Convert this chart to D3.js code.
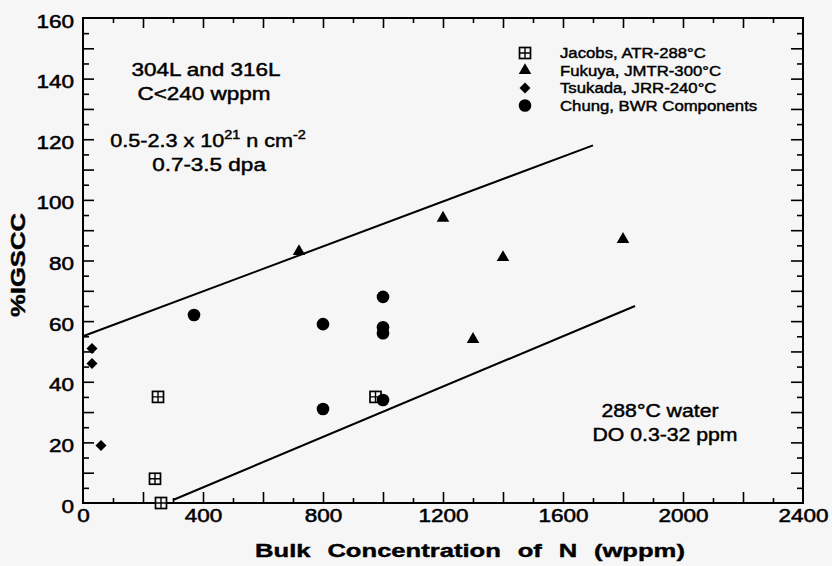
<!DOCTYPE html>
<html><head><meta charset="utf-8">
<script src="https://cdn.jsdelivr.net/npm/d3@7"></script>
<style>
html,body{margin:0;padding:0;background:#f6f6f6;}
svg{display:block;}
text{font-family:"Liberation Sans",Arial,Helvetica,sans-serif;fill:#000;}
</style></head><body>
<svg id="chart" width="832" height="566"></svg>
<script>
// ---------- data ----------
const jacobsN = [250, 240, 260, 975];
const jacobsIGSCC = [35, 8, 0, 35];
const fukuyaN = [720, 1200, 1400, 1800, 1300];
const fukuyaIGSCC = [83, 94, 81, 87, 54];
const tsukadaN = [30, 30, 60];
const tsukadaIGSCC = [51, 46, 19];
const chungN = [370, 800, 800, 1000, 1000, 1000, 1000];
const chungIGSCC = [62, 59, 31, 68, 58, 56, 34];
const upperBoundN = [0, 1700];
const upperBoundIGSCC = [55, 118];
const lowerBoundN = [300, 1840];
const lowerBoundIGSCC = [1, 65];
const xTickLabels = [0, 400, 800, 1200, 1600, 2000, 2400];
const yTickLabels = [0, 20, 40, 60, 80, 100, 120, 140, 160];
const seriesNames = ["Jacobs, ATR-288°C", "Fukuya, JMTR-300°C", "Tsukada, JRR-240°C", "Chung, BWR Components"];
const seriesKinds = ["boxplus", "triangle", "diamond", "circle"];

// ---------- setup ----------
const svg = d3.select("#chart");
svg.append("rect").attr("width", 832).attr("height", 566).attr("fill", "#f6f6f6");
const x = d3.scaleLinear().domain([0, 2400]).range([83, 803]);
const y = d3.scaleLinear().domain([0, 160]).range([503, 18]);

// ticks (inward on all four sides)
const minorX = d3.range(100, 2400, 100).filter(v => v % 200 !== 0);
const majorX = d3.range(200, 2400, 200);
const minorY = d3.range(5, 160, 5).filter(v => v % 10 !== 0);
const majorY = d3.range(10, 160, 10);
function tickSet(gen, vals, size, tr) {
  svg.append("g").attr("transform", tr)
    .call(gen.tickValues(vals).tickSize(size).tickFormat(""))
    .call(g => g.select(".domain").remove())
    .call(g => g.selectAll("line").attr("stroke", "#000").attr("stroke-width", 1.6));
}
tickSet(d3.axisBottom(x), minorX, -5, `translate(0,${y(0)})`);
tickSet(d3.axisBottom(x), majorX, -11, `translate(0,${y(0)})`);
tickSet(d3.axisTop(x), minorX, -5, `translate(0,${y(160)})`);
tickSet(d3.axisTop(x), majorX, -10, `translate(0,${y(160)})`);
tickSet(d3.axisLeft(y), minorY, -6, `translate(${x(0)},0)`);
tickSet(d3.axisLeft(y), majorY, -11, `translate(${x(0)},0)`);
tickSet(d3.axisRight(y), minorY, -6, `translate(${x(2400)},0)`);
tickSet(d3.axisRight(y), majorY, -12, `translate(${x(2400)},0)`);

// frame
svg.append("rect")
  .attr("x", x(0)).attr("y", y(160))
  .attr("width", x(2400) - x(0)).attr("height", y(0) - y(160))
  .attr("fill", "none").attr("stroke", "#000").attr("stroke-width", 2);

// tick labels
svg.append("g").attr("transform", `translate(0,${y(0)})`)
  .call(d3.axisBottom(x).tickValues(xTickLabels).tickSize(0).tickFormat(d3.format("d")))
  .call(g => g.select(".domain").remove())
  .call(g => g.selectAll("text")
    .attr("x", 0).attr("y", 0).attr("dy", 0)
    .attr("transform", "translate(0,19) scale(1.25,1)")
    .style("font-size", "18px").attr("fill", "#000").attr("font-family", null)
    .attr("stroke", "#000").attr("stroke-width", 0.5));
svg.append("g").attr("transform", `translate(${x(0)},0)`)
  .call(d3.axisLeft(y).tickValues(yTickLabels).tickSize(0).tickFormat(d3.format("d")))
  .call(g => g.select(".domain").remove())
  .call(g => g.selectAll("text")
    .attr("x", 0).attr("y", 0).attr("dy", "0.5em")
    .attr("transform", "translate(-9,0) scale(1.25,1)")
    .style("font-size", "18px").attr("fill", "#000").attr("font-family", null)
    .attr("stroke", "#000").attr("stroke-width", 0.5));

// axis titles (wide, bold)
function fitText(sel, target) {
  const w = sel.node().getComputedTextLength();
  return target / w;
}
const xt = svg.append("text").attr("text-anchor", "middle")
  .style("font-size", "18.5px").style("font-weight", "bold").style("word-spacing", "7px")
  .attr("stroke", "#000").attr("stroke-width", 0.4)
  .text("Bulk Concentration of N (wppm)");
const kx = fitText(xt, 430);
xt.attr("transform", `translate(470,557) scale(${kx},1)`);

const yt = svg.append("text").attr("text-anchor", "middle").attr("dy", "0.35em")
  .style("font-size", "21px").style("font-weight", "bold")
  .attr("stroke", "#000").attr("stroke-width", 0.4)
  .text("%IGSCC");
const ky = fitText(yt, 104);
yt.attr("transform", `translate(17.5,265) rotate(-90) scale(${ky},1)`);

// bounding lines
const line = d3.line().x(d => x(d[0])).y(d => y(d[1]));
svg.append("path").datum(d3.zip(upperBoundN, upperBoundIGSCC))
  .attr("d", line).attr("fill", "none").attr("stroke", "#000").attr("stroke-width", 2);
svg.append("path").datum(d3.zip(lowerBoundN, lowerBoundIGSCC))
  .attr("d", line).attr("fill", "none").attr("stroke", "#000").attr("stroke-width", 2);

// markers
function marker(g, kind) {
  if (kind === "boxplus") {
    g.append("rect").attr("x", -5.5).attr("y", -5.5).attr("width", 11).attr("height", 11)
      .attr("fill", "#f6f6f6").attr("stroke", "#000").attr("stroke-width", 1.7);
    g.append("path").attr("d", "M0,-5.5V5.5M-5.5,0H5.5").attr("stroke", "#000").attr("stroke-width", 1.4);
  } else if (kind === "triangle") {
    g.append("path").attr("d", d3.symbol(d3.symbolTriangle, 68)()).attr("fill", "#000");
  } else if (kind === "diamond") {
    g.append("path").attr("d", d3.symbol(d3.symbolSquare, 60)()).attr("transform", "rotate(45)").attr("fill", "#000");
  } else {
    g.append("path").attr("d", d3.symbol(d3.symbolCircle, 125)()).attr("fill", "#000");
  }
}
const series = [
  [jacobsN, jacobsIGSCC], [fukuyaN, fukuyaIGSCC], [tsukadaN, tsukadaIGSCC], [chungN, chungIGSCC]
];
series.forEach((s, i) => {
  svg.append("g").selectAll("g").data(d3.zip(s[0], s[1])).join("g")
    .attr("transform", d => `translate(${x(d[0])},${y(d[1])})`)
    .each(function () { marker(d3.select(this), seriesKinds[i]); });
});

// legend
const lg = svg.append("g");
seriesNames.forEach((name, i) => {
  const by = 58 + i * 17.5;
  marker(lg.append("g").attr("transform", `translate(525,${by - 5})`), seriesKinds[i]);
  lg.append("text").attr("transform", `translate(560,${by}) scale(1.08,1)`).style("font-size", "15.5px")
    .attr("stroke", "#000").attr("stroke-width", 0.45).text(name);
});

// annotations
function note(px, py, str, sx, size) {
  return svg.append("text").attr("transform", `translate(${px},${py}) scale(${sx},1)`)
    .attr("text-anchor", "middle").style("font-size", size + "px")
    .attr("stroke", "#000").attr("stroke-width", 0.45).text(str);
}
note(206, 76, "304L and 316L", 1.25, 18);
note(204, 100, "C<240 wppm", 1.25, 18);
const fl = svg.append("text").attr("transform", "translate(208,147) scale(1.2,1)")
  .attr("text-anchor", "middle").style("font-size", "18px")
  .attr("stroke", "#000").attr("stroke-width", 0.45);
fl.append("tspan").text("0.5-2.3 x 10");
fl.append("tspan").attr("dy", -8).style("font-size", "12px").text("21");
fl.append("tspan").attr("dy", 8).text(" n cm");
fl.append("tspan").attr("dy", -8).style("font-size", "12px").text("-2");
note(209, 171, "0.7-3.5 dpa", 1.25, 18);
note(660, 417, "288°C water", 1.18, 18);
note(665, 441, "DO 0.3-32 ppm", 1.18, 18);
</script>
</body></html>
